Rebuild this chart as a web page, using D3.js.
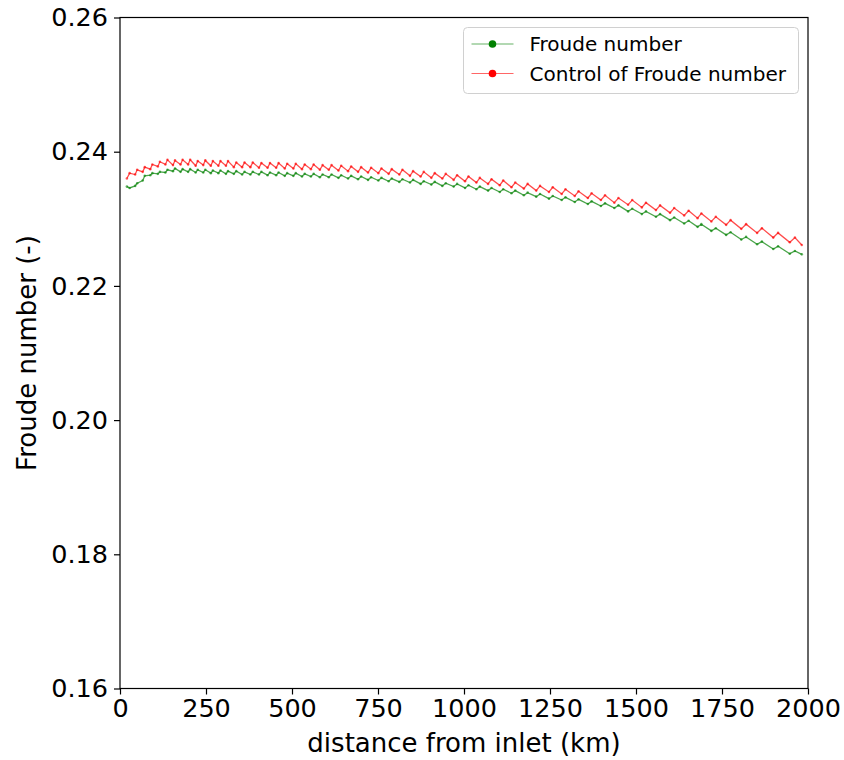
<!DOCTYPE html>
<html lang="en">
<head>
    <meta charset="UTF-8">
    <title>Froude number along the channel</title>
    <script src="https://d3js.org/d3.v7.min.js"></script>
    <style>
        body { margin: 0; background: #fff; }
        text { font-family: "DejaVu Sans", sans-serif; fill: #000; }
    </style>
</head>
<body>
    <div id="chart"></div>

    <script>
        // distance from inlet (km) of each vertex (trough / peak of the sawtooth)
        const distance = [20, 28,
            44, 50, 66, 72, 88, 94, 110, 116, 132, 138, 154, 160, 176, 182, 198, 204,
            220, 226, 242, 248, 264, 270, 286, 292, 308, 314,
            331, 338, 355, 362, 379, 386, 404, 411, 429, 436, 454, 461, 479, 486,
            504, 511, 529, 537, 555, 563, 581, 589, 607, 615,
            635, 643, 663, 672, 692, 701, 721, 730, 751, 760, 781, 790, 812, 821,
            843, 852, 874, 883, 905, 915, 937, 947, 970, 980, 1003, 1013, 1036, 1046,
            1070, 1080, 1104, 1114,
            1138, 1149, 1174, 1185, 1210, 1221, 1247, 1258, 1284, 1295, 1322, 1333,
            1360, 1371, 1398, 1410, 1437, 1449, 1477, 1489, 1517, 1529, 1558, 1570,
            1599, 1611, 1640, 1653,
            1679, 1690, 1719, 1732, 1762, 1775, 1806, 1820, 1852, 1866, 1899, 1913,
            1947, 1962, 1982];

        const froude = [0.2348, 0.2346,
            0.2349, 0.2353, 0.2357, 0.2364, 0.2365, 0.2368, 0.2367, 0.2370, 0.2369, 0.2373,
            0.2371, 0.2375, 0.2370, 0.2374, 0.2370, 0.2374, 0.2369, 0.2373, 0.2369, 0.2373,
            0.2368, 0.2372, 0.2368, 0.2372, 0.2367, 0.2371,
            0.2367, 0.2371, 0.2366, 0.2370, 0.2366, 0.2370, 0.2366, 0.2370, 0.2365, 0.2369,
            0.2365, 0.2369, 0.2364, 0.2368, 0.2364, 0.2368, 0.2363, 0.2367, 0.2363, 0.2367,
            0.2362, 0.2366, 0.2362, 0.2366,
            0.2361, 0.2365, 0.2360, 0.2364, 0.2359, 0.2363, 0.2358, 0.2362, 0.2357, 0.2361,
            0.2356, 0.2360, 0.2355, 0.2359, 0.2354, 0.2358, 0.2352, 0.2356, 0.2351, 0.2355,
            0.2349, 0.2353, 0.2348, 0.2352, 0.2346, 0.2350, 0.2344, 0.2348, 0.2342, 0.2346,
            0.2340, 0.2344,
            0.2338, 0.2342, 0.2335, 0.2339, 0.2333, 0.2337, 0.2330, 0.2334, 0.2328, 0.2332,
            0.2325, 0.2329, 0.2322, 0.2326, 0.2319, 0.2323, 0.2316, 0.2320, 0.2311, 0.2315,
            0.2307, 0.2311, 0.2303, 0.2307, 0.2298, 0.2302, 0.2293, 0.2297,
            0.2288, 0.2292, 0.2282, 0.2286, 0.2276, 0.2280, 0.2269, 0.2273, 0.2262, 0.2266,
            0.2255, 0.2259, 0.2248, 0.2252, 0.2247];

        const control = [0.2360, 0.2368,
            0.2366, 0.2373, 0.2370, 0.2377, 0.2374, 0.2381, 0.2378, 0.2385, 0.2381, 0.2388,
            0.2380, 0.2387, 0.2381, 0.2388, 0.2381, 0.2388, 0.2379, 0.2386, 0.2380, 0.2387,
            0.2379, 0.2386, 0.2379, 0.2386, 0.2379, 0.2386,
            0.2377, 0.2384, 0.2377, 0.2384, 0.2377, 0.2384, 0.2376, 0.2383, 0.2376, 0.2383,
            0.2376, 0.2383, 0.2375, 0.2382, 0.2375, 0.2382, 0.2374, 0.2381, 0.2374, 0.2381,
            0.2373, 0.2380, 0.2373, 0.2380,
            0.2372, 0.2379, 0.2371, 0.2378, 0.2370, 0.2377, 0.2369, 0.2376, 0.2368, 0.2375,
            0.2367, 0.2374, 0.2366, 0.2373, 0.2364, 0.2371, 0.2363, 0.2370, 0.2361, 0.2368,
            0.2360, 0.2367, 0.2358, 0.2365, 0.2356, 0.2363, 0.2354, 0.2361, 0.2352, 0.2359,
            0.2350, 0.2357,
            0.2347, 0.2354, 0.2345, 0.2352, 0.2342, 0.2349, 0.2340, 0.2347, 0.2337, 0.2344,
            0.2334, 0.2341, 0.2331, 0.2338, 0.2328, 0.2335, 0.2324, 0.2331, 0.2321, 0.2328,
            0.2317, 0.2324, 0.2313, 0.2320, 0.2309, 0.2316, 0.2305, 0.2312,
            0.2301, 0.2308, 0.2296, 0.2303, 0.2291, 0.2298, 0.2285, 0.2292, 0.2279, 0.2286,
            0.2272, 0.2279, 0.2265, 0.2272, 0.2261];

        const xTicks = [0, 250, 500, 750, 1000, 1250, 1500, 1750, 2000];
        const yTicks = [0.16, 0.18, 0.20, 0.22, 0.24, 0.26];

        const seriesNames = ["Froude number", "Control of Froude number"];
        const seriesColors = ["#008000", "#ff0000"];

        const W = 844, H = 760;
        const margin = { top: 17.5, right: 36, bottom: 71.5, left: 120 },
              width = W - margin.left - margin.right,
              height = H - margin.top - margin.bottom;

        const svg = d3.select("#chart")
            .append("svg")
            .attr("width", W)
            .attr("height", H);

        const g = svg.append("g")
            .attr("transform", `translate(${margin.left},${margin.top})`);

        const x = d3.scaleLinear().domain([0, 2000]).range([0, width]);
        const y = d3.scaleLinear().domain([0.16, 0.26]).range([height, 0]);

        // axes
        const xAxis = g.append("g")
            .attr("transform", `translate(0,${height})`)
            .call(d3.axisBottom(x).tickValues(xTicks).tickFormat(d3.format("d")).tickSize(6).tickPadding(4));
        const yAxis = g.append("g")
            .call(d3.axisLeft(y).tickValues(yTicks).tickFormat(d3.format(".2f")).tickSize(6).tickPadding(6));

        [xAxis, yAxis].forEach(a => {
            a.selectAll("text").style("font-size", "25.5px").style("font-family", "DejaVu Sans");
            a.selectAll("line").attr("stroke", "#000").attr("stroke-width", 1.2);
            a.select(".domain").remove();
        });

        // frame
        g.append("rect")
            .attr("width", width)
            .attr("height", height)
            .attr("fill", "none")
            .attr("stroke", "#000")
            .attr("stroke-width", 1.2);

        // series
        const series = [froude, control].map((vals, i) => ({
            name: seriesNames[i],
            color: seriesColors[i],
            points: distance.map((d, j) => ({ d: d, v: vals[j] }))
        }));

        const line = d3.line().x(p => x(p.d)).y(p => y(p.v));

        series.forEach(s => {
            g.append("path")
                .datum(s.points)
                .attr("fill", "none")
                .attr("stroke", s.color)
                .attr("stroke-opacity", 0.7)
                .attr("stroke-width", 1.3)
                .attr("d", line);
            g.append("g").selectAll("circle")
                .data(s.points)
                .join("circle")
                .attr("cx", p => x(p.d))
                .attr("cy", p => y(p.v))
                .attr("r", 1.3)
                .attr("fill", s.color)
                .attr("fill-opacity", 0.6);
        });

        // axis labels
        svg.append("text")
            .attr("x", margin.left + width / 2)
            .attr("y", 752)
            .attr("text-anchor", "middle")
            .style("font-size", "26px")
            .text("distance from inlet (km)");

        svg.append("text")
            .attr("transform", `translate(36,${margin.top + height / 2}) rotate(-90)`)
            .attr("text-anchor", "middle")
            .style("font-size", "26px")
            .text("Froude number (-)");

        // legend
        const legend = svg.append("g").attr("transform", "translate(463.5,27.5)");
        legend.append("rect")
            .attr("width", 335)
            .attr("height", 66)
            .attr("rx", 4)
            .attr("fill", "#fff")
            .attr("fill-opacity", 0.8)
            .attr("stroke", "#d0d0d0")
            .attr("stroke-width", 1);

        series.forEach((s, i) => {
            const row = legend.append("g").attr("transform", `translate(0,${16.5 + i * 29.5})`);
            row.append("line")
                .attr("x1", 8).attr("x2", 50)
                .attr("stroke", s.color)
                .attr("stroke-opacity", 0.6)
                .attr("stroke-width", 1.2);
            row.append("circle")
                .attr("cx", 29)
                .attr("r", 3.8)
                .attr("fill", s.color);
            row.append("text")
                .attr("x", 66)
                .attr("dy", "0.36em")
                .style("font-size", "20px")
                .text(s.name);
        });
    </script>
</body>
</html>
